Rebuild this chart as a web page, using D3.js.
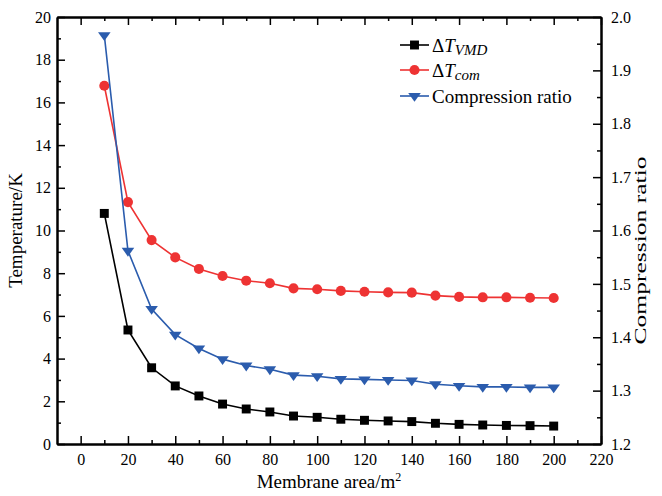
<!DOCTYPE html>
<html>
<head>
<meta charset="utf-8">
<script src="https://cdn.jsdelivr.net/npm/d3@7"></script>
<style>
body { margin: 0; background: #fff; }
svg text { font-family: "Liberation Serif", "Times New Roman", serif; fill: #000; }
.axis path, .axis line { stroke: #000; }
</style>
</head>
<body>
<svg id="chart"></svg>
<script>
// data
const area = [10, 20, 30, 40, 50, 60, 70, 80, 90, 100, 110, 120, 130, 140, 150, 160, 170, 180, 190, 200];
const dTvmd = [10.8, 5.34, 3.57, 2.72, 2.25, 1.87, 1.64, 1.50, 1.31, 1.25, 1.16, 1.11, 1.08, 1.05, 0.97, 0.92, 0.89, 0.87, 0.86, 0.84];
const dTcom = [16.78, 11.33, 9.55, 8.74, 8.20, 7.87, 7.65, 7.53, 7.29, 7.25, 7.17, 7.13, 7.10, 7.09, 6.95, 6.89, 6.87, 6.87, 6.85, 6.84];
const ratio = [1.966, 1.562, 1.453, 1.405, 1.379, 1.359, 1.347, 1.340, 1.329, 1.327, 1.322, 1.321, 1.320, 1.319, 1.312, 1.309, 1.307, 1.307, 1.306, 1.306];

const xTicks = d3.range(0, 221, 20);
const xMinor = d3.range(10, 220, 20);
const yTicks = d3.range(0, 21, 2);
const yMinor = d3.range(1, 20, 2);
const rTicks = d3.range(12, 21, 1).map(d => d / 10);
const rMinor = d3.range(12.5, 20, 1).map(d => d / 10);

const W = 662, H = 496;
const margin = {top: 17, right: 61, bottom: 52, left: 57},
width = W - margin.left - margin.right,
height = H - margin.top - margin.bottom;

const svg = d3.select("#chart")
.attr("width", W)
.attr("height", H)
.append("g")
.attr("transform", `translate(${margin.left},${margin.top})`);

// scales
const x = d3.scaleLinear().domain([-10, 220]).range([0, width]);
const y = d3.scaleLinear().domain([0, 20]).range([height, 0]);
const yr = d3.scaleLinear().domain([1.2, 2.0]).range([height, 0]);

// axes, ticks pointing inward
function addAxis(axis, cls, tr) {
    const g = svg.append("g").attr("class", "axis " + cls)
        .attr("transform", tr || null)
        .call(axis);
    g.selectAll("line").attr("stroke-width", 1.5);
    g.selectAll("text").style("font-size", "16px");
    return g;
}

addAxis(d3.axisBottom(x).tickValues(xTicks).tickSize(-8).tickPadding(10).tickSizeOuter(0), "x-axis", `translate(0,${height})`);
addAxis(d3.axisBottom(x).tickValues(xMinor).tickSize(-4).tickFormat("").tickSizeOuter(0), "x-minor", `translate(0,${height})`);
addAxis(d3.axisTop(x).tickValues(xTicks).tickSize(-8).tickFormat("").tickSizeOuter(0), "x-top");
addAxis(d3.axisTop(x).tickValues(xMinor).tickSize(-4).tickFormat("").tickSizeOuter(0), "x-top-minor");

addAxis(d3.axisLeft(y).tickValues(yTicks).tickSize(-8).tickPadding(6).tickSizeOuter(0), "y-axis");
addAxis(d3.axisLeft(y).tickValues(yMinor).tickSize(-4).tickFormat("").tickSizeOuter(0), "y-minor");

addAxis(d3.axisRight(yr).tickValues(rTicks).tickSize(-8).tickPadding(10).tickFormat(d3.format(".1f")).tickSizeOuter(0), "r-axis", `translate(${width},0)`);
addAxis(d3.axisRight(yr).tickValues(rMinor).tickSize(-4).tickFormat("").tickSizeOuter(0), "r-minor", `translate(${width},0)`);

svg.selectAll(".axis path.domain").attr("stroke-width", 2);

// axis titles
svg.append("text")
    .attr("transform", `translate(${-35},${height / 2}) rotate(-90)`)
    .attr("text-anchor", "middle")
    .style("font-size", "19px")
    .text("Temperature/K");

// right title sits a bit lower and is stretched in the original
svg.append("text")
    .attr("transform", `translate(${width + 39},${height / 2 + 20}) rotate(-90)`)
    .attr("text-anchor", "middle")
    .attr("dy", "0.35em")
    .attr("textLength", 188)
    .attr("lengthAdjust", "spacingAndGlyphs")
    .style("font-size", "16px")
    .text("Compression ratio");

const xt = svg.append("text")
    .attr("x", width / 2)
    .attr("y", height + 44)
    .attr("text-anchor", "middle")
    .style("font-size", "19px");
xt.append("tspan").text("Membrane area/m");
xt.append("tspan").attr("dy", -7).style("font-size", "12px").text("2");

// series
const series = [
    {name: "vmd", values: dTvmd, scale: y, color: "#000000", shape: d3.symbolSquare, size: 80, tr: ""},
    {name: "com", values: dTcom, scale: y, color: "#ee3333", shape: d3.symbolCircle, size: 80, tr: ""},
    {name: "ratio", values: ratio, scale: yr, color: "#2b5cad", shape: d3.symbolTriangle, size: 62, tr: " rotate(180) scale(1.05,0.85)"}
];

series.forEach(s => {
    const pts = area.map((a, i) => [a, s.values[i]]);
    const line = d3.line().x(d => x(d[0])).y(d => s.scale(d[1]));
    svg.append("path")
        .datum(pts)
        .attr("fill", "none")
        .attr("stroke", s.color)
        .attr("stroke-width", 1.6)
        .attr("d", line);
    svg.selectAll(".pt-" + s.name)
        .data(pts)
        .enter().append("path")
        .attr("class", "pt-" + s.name)
        .attr("transform", d => `translate(${x(d[0])},${s.scale(d[1])})${s.tr}`)
        .attr("d", d3.symbol(s.shape, s.size))
        .attr("fill", s.color);
});

// legend
const legend = svg.append("g").attr("transform", `translate(${343},${28})`);
const rowY = [0, 25, 51];
series.forEach((s, i) => {
    const g = legend.append("g").attr("transform", `translate(0,${rowY[i]})`);
    g.append("line").attr("x1", 0).attr("x2", 29).attr("stroke", s.color).attr("stroke-width", 1.6);
    g.append("path")
        .attr("transform", `translate(14.5,0)${s.tr}`)
        .attr("d", d3.symbol(s.shape, s.size))
        .attr("fill", s.color);
});

function deltaLabel(row, sub) {
    const t = legend.append("text")
        .attr("x", 32).attr("y", rowY[row]).attr("dy", "0.35em")
        .style("font-size", "19px");
    t.append("tspan").text("\u0394");
    t.append("tspan").style("font-style", "italic").text("T");
    t.append("tspan").style("font-style", "italic").style("font-size", "15px").attr("dy", 3).text(sub);
}
deltaLabel(0, "VMD");
deltaLabel(1, "com");
legend.append("text")
    .attr("x", 32).attr("y", rowY[2]).attr("dy", "0.35em")
    .style("font-size", "19px")
    .text("Compression ratio");
</script>
</body>
</html>
